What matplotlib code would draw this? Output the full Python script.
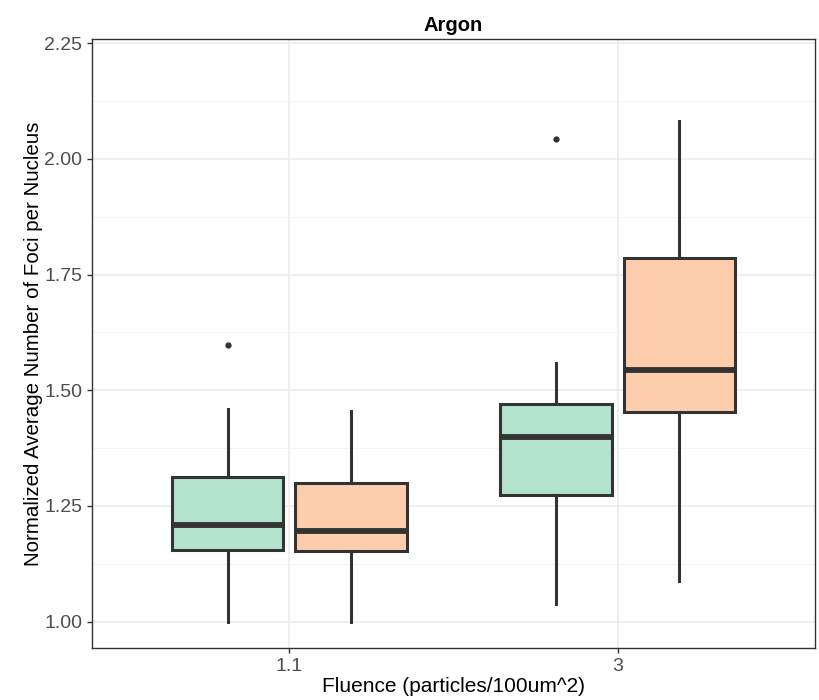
import matplotlib
matplotlib.use("Agg")
import matplotlib.pyplot as plt
from matplotlib.ticker import MultipleLocator

plt.rcParams["font.family"] = ["Liberation Sans", "DejaVu Sans"]

# data
groups = ["1.1", "3"]
fill_colors = ["#B3E2CD", "#FDCDAC"]
whislo = [[1.000, 1.000], [1.039, 1.087]]
q1 = [[1.155, 1.153], [1.273, 1.454]]
med = [[1.208, 1.196], [1.399, 1.543]]
q3 = [[1.313, 1.300], [1.471, 1.786]]
whishi = [[1.460, 1.456], [1.559, 2.081]]
fliers = [[[1.598], []], [[2.044], []]]

offsets = [-0.1875, 0.1875]
box_w = 0.34
edge = "#333333"

fig = plt.figure(figsize=(8.19, 7.00), dpi=100)
ax = fig.add_axes([0.1123, 0.0743, 0.9951 - 0.1123, 0.9436 - 0.0743])

for g in range(len(groups)):
    for s in range(2):
        st = dict(med=med[g][s], q1=q1[g][s], q3=q3[g][s],
                  whislo=whislo[g][s], whishi=whishi[g][s],
                  fliers=fliers[g][s])
        ax.bxp([st], positions=[g + 1 + offsets[s]], widths=box_w,
               patch_artist=True, showcaps=False, zorder=3,
               boxprops=dict(facecolor=fill_colors[s], edgecolor=edge, linewidth=2.2),
               medianprops=dict(color=edge, linewidth=4.2, solid_capstyle="butt"),
               whiskerprops=dict(color=edge, linewidth=2.2),
               flierprops=dict(marker="o", markerfacecolor=edge, markeredgecolor=edge,
                               markersize=3.5))

ax.set_xlim(0.4, 2.6)
ax.set_ylim(0.943, 2.258)
ax.set_xticks([1, 2])
ax.set_xticklabels(groups)
ax.yaxis.set_major_locator(MultipleLocator(0.25))
ax.yaxis.set_minor_locator(MultipleLocator(0.125))
ax.yaxis.set_major_formatter(lambda v, p: f"{v:.2f}")

ax.grid(True, which="major", color="#EBEBEB", linewidth=1.1, zorder=0)
ax.grid(True, which="minor", axis="y", color="#F3F3F3", linewidth=0.6, zorder=0)
ax.set_axisbelow(True)
for sp in ax.spines.values():
    sp.set_color(edge)
    sp.set_linewidth(1.0)
ax.tick_params(axis="both", which="major", colors=edge, labelcolor="#4D4D4D",
               labelsize=14, length=3.5, width=1.0)
ax.tick_params(axis="y", which="minor", length=0)

ax.set_xlabel("Fluence (particles/100um^2)", fontsize=15, color="black", labelpad=2)
ax.set_ylabel("Normalized Average Number of Foci per Nucleus", fontsize=14.8,
              color="black", labelpad=1)
ax.set_title("Argon", fontsize=14.5, fontweight="bold", pad=6)

fig.savefig("out.png", dpi=100)
